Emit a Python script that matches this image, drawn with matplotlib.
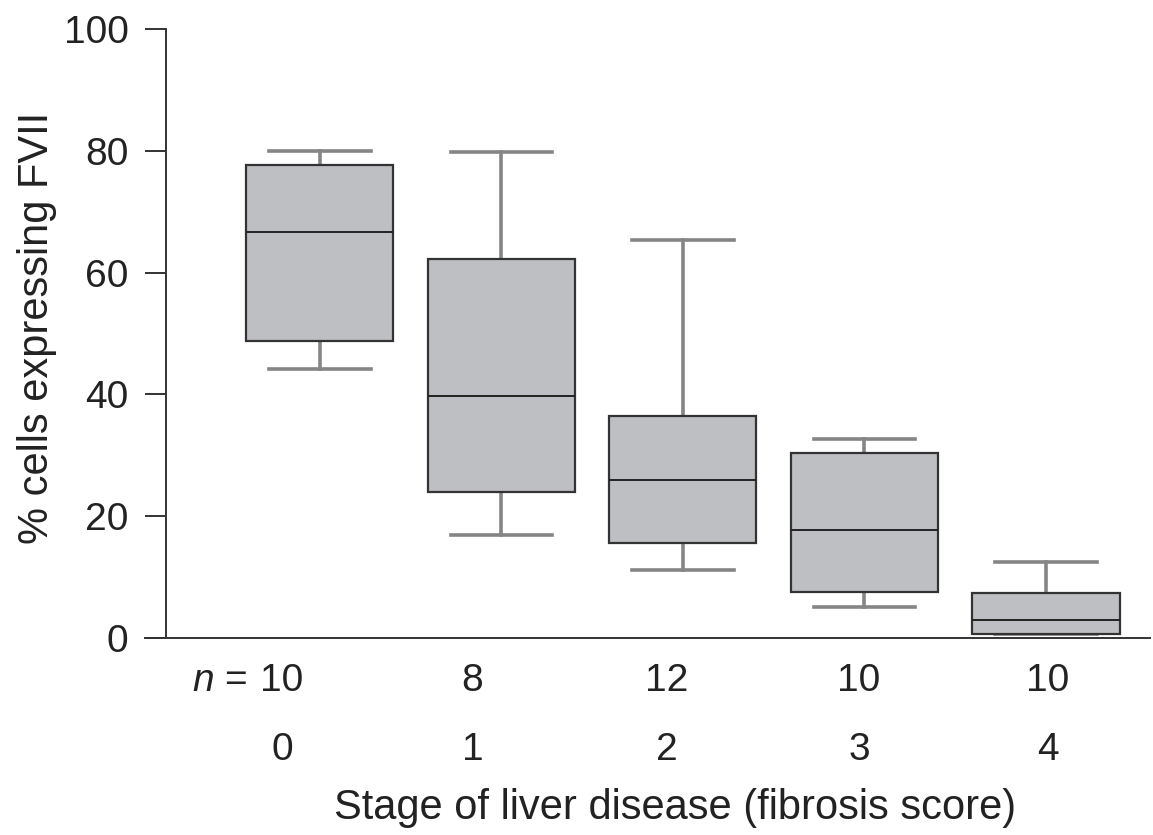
import matplotlib
matplotlib.use("Agg")
import matplotlib.pyplot as plt
from matplotlib import transforms

plt.rcParams['font.family'] = ['Liberation Sans', 'DejaVu Sans']
plt.rcParams['mathtext.fontset'] = 'custom'
plt.rcParams['mathtext.it'] = 'Liberation Sans:italic'
plt.rcParams['mathtext.rm'] = 'Liberation Sans'

# ---- data ----
stages = ["0", "1", "2", "3", "4"]
n_counts = ["10", "8", "12", "10", "10"]
whisker_low = [44.2, 16.9, 11.2, 5.1, 0.7]
q1 = [48.7, 24.0, 15.6, 7.6, 0.7]
median = [66.6, 39.8, 26.0, 17.8, 3.0]
q3 = [77.6, 62.2, 36.5, 30.4, 7.4]
whisker_high = [80.0, 79.8, 65.3, 32.7, 12.5]
label_shift = [-0.21, -0.16, -0.09, -0.03, 0.01]
yticks = [0, 20, 40, 60, 80, 100]

txt = '#222222'
fig = plt.figure(figsize=(11.53, 8.35), dpi=100)
ax = fig.add_axes([145/1153, (835-638)/835, 1005/1153, 609/835])

stats = []
for i in range(len(stages)):
    stats.append(dict(med=median[i], q1=q1[i], q3=q3[i],
                      whislo=whisker_low[i], whishi=whisker_high[i], fliers=[]))
positions = list(range(len(stages)))
ax.bxp(stats, positions=positions, widths=0.81, capwidths=0.56,
       showfliers=False, patch_artist=True,
       boxprops=dict(facecolor='#bebfc3', edgecolor='#333333', linewidth=1.6, zorder=3),
       medianprops=dict(color='#222222', linewidth=1.4, zorder=4),
       whiskerprops=dict(color='#858585', linewidth=2.6, zorder=2),
       capprops=dict(color='#858585', linewidth=2.6, zorder=2))

for s in ['top', 'right']:
    ax.spines[s].set_visible(False)
ax.spines['left'].set_position(('data', -0.848))
ax.spines['left'].set_color('#333333')
ax.spines['left'].set_linewidth(1.4)
ax.spines['bottom'].set_color('#333333')
ax.spines['bottom'].set_linewidth(1.4)

ax.set_xlim(-0.964, 4.573)
ax.set_ylim(0, 100)
ax.set_yticks(yticks)
ax.set_yticklabels([str(t) for t in yticks])
ax.tick_params(axis='y', length=15, width=1.4, color='#333333', pad=12,
               labelsize=28, labelcolor=txt)
ax.set_xticks([])

trans = transforms.blended_transform_factory(ax.transData, ax.transAxes)
for i in range(len(stages)):
    x = positions[i] + label_shift[i]
    ax.text(x, -0.0706, n_counts[i], transform=trans, ha='center', va='center',
            fontsize=28, color=txt)
    ax.text(x, -0.184, stages[i], transform=trans, ha='center', va='center',
            fontsize=28, color=txt)
off = transforms.offset_copy(trans, fig=fig, x=-25, y=0, units='points')
ax.text(positions[0] + label_shift[0], -0.0706, r"$n$ =", transform=off,
        ha='right', va='center', fontsize=28, color=txt)

ax.text(0.527, -0.279, "Stage of liver disease (fibrosis score)", transform=ax.transAxes,
        ha='center', va='center', fontsize=30, color=txt)
ax.text(-0.1075, 0.509, "% cells expressing FVII", transform=ax.transAxes,
        ha='center', va='center', rotation=90, fontsize=30, color=txt)

fig.savefig("out.png", dpi=100)
